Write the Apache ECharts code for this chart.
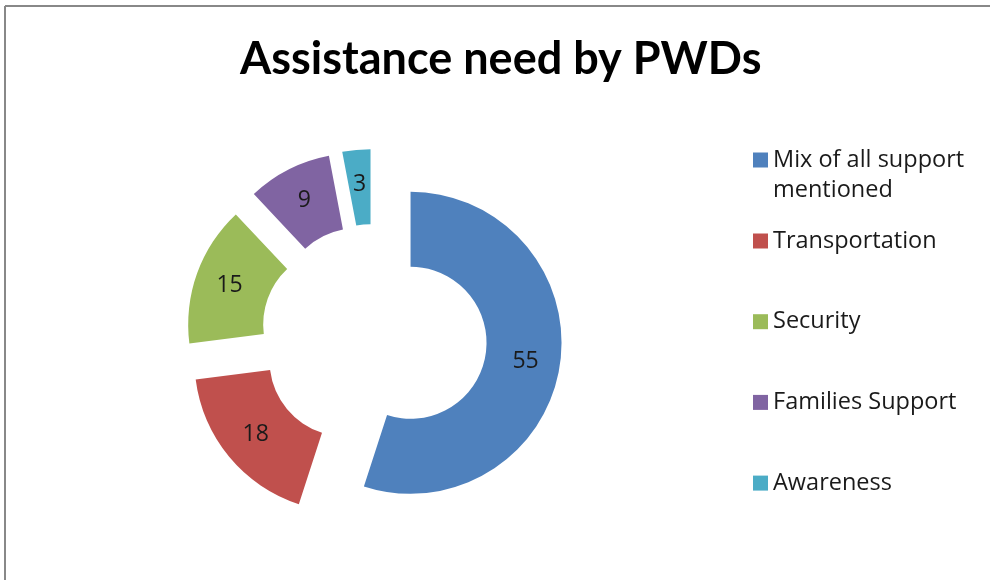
<!DOCTYPE html>
<html>
<head>
<meta charset="utf-8">
<script src="https://cdn.jsdelivr.net/npm/echarts@6/dist/echarts.min.js"></script>
<style>
  html, body { margin: 0; padding: 0; background: #ffffff; }
  #chart { width: 990px; height: 580px; }
</style>
</head>
<body>
<div id="chart"></div>
<script>
// Assistance categories and their counts
const categories = [
  'Mix of all support mentioned',
  'Transportation',
  'Security',
  'Families Support',
  'Awareness'
];
const values = [55, 18, 15, 9, 3];
const colors = ['#4F81BD', '#C0504D', '#9BBB59', '#8064A2', '#4BACC6'];

const TITLE_FONT = 'Lato, "Liberation Sans", sans-serif';
const TEXT_FONT = '"Open Sans", "Liberation Sans", sans-serif';

const chart = echarts.init(document.getElementById('chart'), null, { renderer: 'canvas' });

const pieData = categories.map((name, i) => ({
  name: name,
  value: values[i],
  selected: true,
  itemStyle: { color: colors[i] }
}));

const legendText = { fontFamily: TEXT_FONT, fontSize: 23.5, color: '#1a1a1a', lineHeight: 30 };

// first legend entry wraps onto two lines; its marker sits beside the first line
const firstLegend = {
  orient: 'vertical',
  left: 748,
  top: 140,
  data: [categories[0]],
  icon: 'path://M0,0H15V15H0Z M0,45',
  itemWidth: 15,
  itemHeight: 45,
  formatter: () => 'Mix of all support\nmentioned',
  textStyle: legendText,
  selectedMode: false
};

const restLegend = {
  orient: 'vertical',
  left: 748,
  top: 221,
  data: categories.slice(1),
  icon: 'rect',
  itemWidth: 15,
  itemHeight: 15,
  itemGap: 50.7,
  textStyle: legendText,
  selectedMode: false
};

chart.setOption({
  backgroundColor: '#ffffff',
  animation: false,
  title: {
    text: 'Assistance need by PWDs',
    left: 240,
    top: 37,
    padding: 0,
    textStyle: { fontFamily: TITLE_FONT, fontSize: 45, fontWeight: 'bold', color: '#000000' }
  },
  legend: [firstLegend, restLegend],
  graphic: [
    { type: 'line', shape: { x1: 5, y1: 6, x2: 990, y2: 6 }, style: { stroke: '#888888', lineWidth: 2 } },
    { type: 'line', shape: { x1: 5, y1: 6, x2: 5, y2: 580 }, style: { stroke: '#888888', lineWidth: 2 } }
  ],
  series: [{
    type: 'pie',
    center: [374, 337],
    radius: [76, 151],
    startAngle: 90,
    clockwise: true,
    selectedMode: 'multiple',
    selectedOffset: 37,
    avoidLabelOverlap: false,
    emphasis: { disabled: true, scale: false },
    label: {
      show: true,
      position: 'inside',
      formatter: '{c}',
      fontFamily: TEXT_FONT,
      fontSize: 23,
      color: '#1a1a1a'
    },
    labelLine: { show: false },
    data: pieData
  }]
});
</script>
</body>
</html>
